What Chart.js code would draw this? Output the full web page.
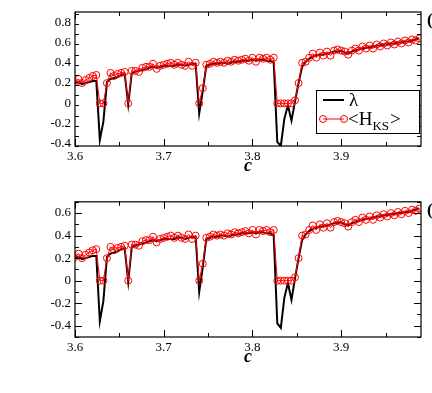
<!DOCTYPE html>
<html lang="en">
<head>
  <meta charset="UTF-8">
  <title>Lyapunov exponent vs KS entropy</title>
  <script src="https://cdn.jsdelivr.net/npm/chart.js"></script>
  <style>
    html, body {
      margin: 0;
      padding: 0;
      background: #fff;
      width: 432px;
      height: 393px;
      overflow: hidden;
    }
    .wrap { position: relative; width: 432px; height: 393px; }
    canvas { position: absolute; left: 0; }
    #top { top: 0; }
    #bottom { top: 190px; }
  </style>
</head>
<body>
<div class="wrap">
  <canvas id="top" width="432" height="180"></canvas>
  <canvas id="bottom" width="432" height="190"></canvas>
</div>

<script>
  // control parameter c
  const cValues = [
    3.600, 3.604, 3.608, 3.612, 3.616, 3.620, 3.624, 3.628, 3.632, 3.636,
    3.640, 3.644, 3.648, 3.652, 3.656, 3.660, 3.664, 3.668, 3.672, 3.676,
    3.680, 3.684, 3.688, 3.692, 3.696, 3.700, 3.704, 3.708, 3.712, 3.716,
    3.720, 3.724, 3.728, 3.732, 3.736, 3.740, 3.744, 3.748, 3.752, 3.756,
    3.760, 3.764, 3.768, 3.772, 3.776, 3.780, 3.784, 3.788, 3.792, 3.796,
    3.800, 3.804, 3.808, 3.812, 3.816, 3.820, 3.824, 3.828, 3.832, 3.836,
    3.840, 3.844, 3.848, 3.852, 3.856, 3.860, 3.864, 3.868, 3.872, 3.876,
    3.880, 3.884, 3.888, 3.892, 3.896, 3.900, 3.904, 3.908, 3.912, 3.916,
    3.920, 3.924, 3.928, 3.932, 3.936, 3.940, 3.944, 3.948, 3.952, 3.956,
    3.960, 3.964, 3.968, 3.972, 3.976, 3.980, 3.984, 3.988
  ];

  // Lyapunov exponent (black line)
  const lambdaVals = [
    0.20, 0.21, 0.19, 0.20, 0.21, 0.22, 0.22, -0.36, -0.18, 0.21,
    0.24, 0.25, 0.26, 0.28, 0.29, -0.01, 0.30, 0.31, 0.32, 0.33,
    0.34, 0.35, 0.36, 0.35, 0.36, 0.37, 0.37, 0.37, 0.37, 0.38,
    0.38, 0.37, 0.38, 0.39, 0.39, -0.10, 0.12, 0.37, 0.38, 0.39,
    0.39, 0.40, 0.40, 0.39, 0.40, 0.41, 0.41, 0.42, 0.42, 0.42,
    0.43, 0.42, 0.43, 0.43, 0.42, 0.42, 0.40, -0.38, -0.42, -0.15,
    -0.02, -0.17, 0.02, 0.20, 0.36, 0.41, 0.44, 0.46, 0.47, 0.48,
    0.48, 0.49, 0.50, 0.51, 0.51, 0.52, 0.50, 0.49, 0.51, 0.52,
    0.53, 0.54, 0.55, 0.55, 0.56, 0.57, 0.57, 0.58, 0.58, 0.59,
    0.59, 0.60, 0.60, 0.61, 0.61, 0.62, 0.63, 0.64
  ];

  // <H_KS> (red circles)
  const hksVals = [
    0.21, 0.24, 0.20, 0.23, 0.25, 0.27, 0.28, 0.00, 0.00, 0.20,
    0.30, 0.27, 0.29, 0.30, 0.31, 0.00, 0.32, 0.32, 0.31, 0.35,
    0.36, 0.36, 0.39, 0.34, 0.37, 0.38, 0.39, 0.40, 0.38, 0.40,
    0.38, 0.37, 0.41, 0.37, 0.40, 0.00, 0.15, 0.38, 0.39, 0.41,
    0.40, 0.41, 0.40, 0.42, 0.41, 0.43, 0.42, 0.43, 0.44, 0.42,
    0.45, 0.41, 0.45, 0.44, 0.45, 0.43, 0.45, 0.00, 0.00, 0.00,
    0.00, 0.00, 0.03, 0.20, 0.40, 0.41, 0.45, 0.49, 0.45, 0.50,
    0.47, 0.51, 0.47, 0.52, 0.53, 0.52, 0.51, 0.48, 0.52, 0.54,
    0.52, 0.56, 0.54, 0.57, 0.54, 0.58, 0.56, 0.59, 0.57, 0.60,
    0.58, 0.61, 0.59, 0.62, 0.60, 0.63, 0.62, 0.64
  ];

  const xTicks = [3.6, 3.7, 3.8, 3.9];
  const yTicksTop = [-0.4, -0.2, 0, 0.2, 0.4, 0.6, 0.8];
  const yTicksBottom = [-0.4, -0.2, 0, 0.2, 0.4, 0.6];

  const SERIF = "'Liberation Serif', 'DejaVu Serif', serif";
  const fmt = v => String(Number(v.toFixed(2)));

  // xmgrace-like frame with inward ticks, axis title and panel tag
  const framePlugin = {
    id: 'frame',
    afterDraw(chart, args, opts) {
      const { ctx, chartArea: a, scales: { x, y } } = chart;
      ctx.save();
      ctx.strokeStyle = '#000';
      ctx.lineWidth = 1.2;
      ctx.strokeRect(a.left, a.top, a.right - a.left, a.bottom - a.top);
      ctx.lineWidth = 1;
      ctx.beginPath();
      for (let v = 3.6; v < 3.995; v += 0.05) {
        const px = Math.round(x.getPixelForValue(v)) + 0.5;
        const major = Math.abs(v * 10 - Math.round(v * 10)) < 0.01;
        const len = major ? 7 : 4;
        ctx.moveTo(px, a.bottom); ctx.lineTo(px, a.bottom - len);
        ctx.moveTo(px, a.top); ctx.lineTo(px, a.top + len);
      }
      for (let v = opts.yMin; v <= opts.yMax + 0.001; v += 0.1) {
        const py = Math.round(y.getPixelForValue(v)) + 0.5;
        const major = Math.abs(v * 5 - Math.round(v * 5)) < 0.01;
        const len = major ? 7 : 4;
        ctx.moveTo(a.left, py); ctx.lineTo(a.left + len, py);
        ctx.moveTo(a.right, py); ctx.lineTo(a.right - len, py);
      }
      ctx.stroke();

      ctx.fillStyle = '#000';
      ctx.font = `italic bold 18px ${SERIF}`;
      ctx.textAlign = 'center';
      ctx.textBaseline = 'alphabetic';
      ctx.fillText('c', (a.left + a.right) / 2, a.bottom + 25);

      ctx.font = `bold 17px ${SERIF}`;
      ctx.textAlign = 'left';
      ctx.fillText(opts.tag, 427, a.top + 13);

      if (opts.legend) {
        const lx = 316, ly = 90, lw = 103, lh = 43;
        ctx.fillStyle = '#fff';
        ctx.fillRect(lx, ly, lw, lh);
        ctx.strokeStyle = '#000';
        ctx.lineWidth = 1;
        ctx.strokeRect(lx + 0.5, ly + 0.5, lw, lh);
        // lambda entry
        ctx.lineWidth = 2;
        ctx.beginPath();
        ctx.moveTo(323, 100); ctx.lineTo(344, 100);
        ctx.stroke();
        // H_KS entry
        ctx.strokeStyle = '#ff0000';
        ctx.lineWidth = 1;
        ctx.beginPath();
        ctx.moveTo(323, 119); ctx.lineTo(344, 119);
        ctx.stroke();
        [323, 344].forEach(cx => {
          ctx.beginPath();
          ctx.arc(cx, 119, 3.5, 0, Math.PI * 2);
          ctx.stroke();
        });
        ctx.fillStyle = '#000';
        ctx.font = `19px ${SERIF}`;
        ctx.fillText('\u03bb', 349, 106);
        ctx.fillText('<H', 348, 125);
        const w1 = ctx.measureText('<H').width;
        ctx.font = `13px ${SERIF}`;
        ctx.fillText('KS', 348 + w1, 130);
        const w2 = ctx.measureText('KS').width;
        ctx.font = `19px ${SERIF}`;
        ctx.fillText('>', 348 + w1 + w2 + 1, 125);
      }
      ctx.restore();
    }
  };

  function makePanel(id, yMin, yMax, yTicks, padTop, xHeight, tag, legend) {
    const ctx = document.getElementById(id).getContext('2d');
    return new Chart(ctx, {
      type: 'line',
      data: {
        labels: cValues,
        datasets: [{
          label: '<HKS>',
          data: cValues.map((c, i) => ({ x: c, y: hksVals[i] })),
          borderColor: '#ff0000',
          borderWidth: 1,
          pointRadius: 3.5,
          pointBorderWidth: 1,
          pointBorderColor: '#ff0000',
          pointBackgroundColor: 'rgba(0,0,0,0)',
          tension: 0
        }, {
          label: 'lambda',
          data: cValues.map((c, i) => ({ x: c, y: lambdaVals[i] })),
          borderColor: '#000',
          borderWidth: 2,
          pointRadius: 0,
          tension: 0
        }]
      },
      options: {
        responsive: false,
        animation: false,
        layout: { padding: { top: padTop, right: 11, left: 0, bottom: 0 } },
        plugins: {
          legend: { display: false },
          tooltip: { enabled: false },
          frame: { yMin, yMax, tag, legend }
        },
        scales: {
          x: {
            type: 'linear',
            min: 3.6,
            max: 3.99,
            afterBuildTicks: s => { s.ticks = xTicks.map(v => ({ value: v })); },
            afterFit: s => { s.height = xHeight; },
            grid: { display: false, drawTicks: false },
            border: { display: false },
            ticks: {
              color: '#000',
              padding: 3,
              maxRotation: 0,
              font: { family: SERIF, size: 13 },
              callback: v => v.toFixed(1)
            }
          },
          y: {
            min: yMin,
            max: yMax,
            afterBuildTicks: s => { s.ticks = yTicks.map(v => ({ value: v })); },
            afterFit: s => { s.width = 75; },
            grid: { display: false, drawTicks: false },
            border: { display: false },
            ticks: {
              color: '#000',
              padding: 4,
              font: { family: SERIF, size: 13 },
              callback: v => fmt(v)
            }
          }
        }
      },
      plugins: [framePlugin]
    });
  }

  makePanel('top', -0.42, 0.9, yTicksTop, 12, 34, '(a)', true);
  makePanel('bottom', -0.5, 0.7, yTicksBottom, 11, 43, '(b)', false);
</script>
</body>
</html>
